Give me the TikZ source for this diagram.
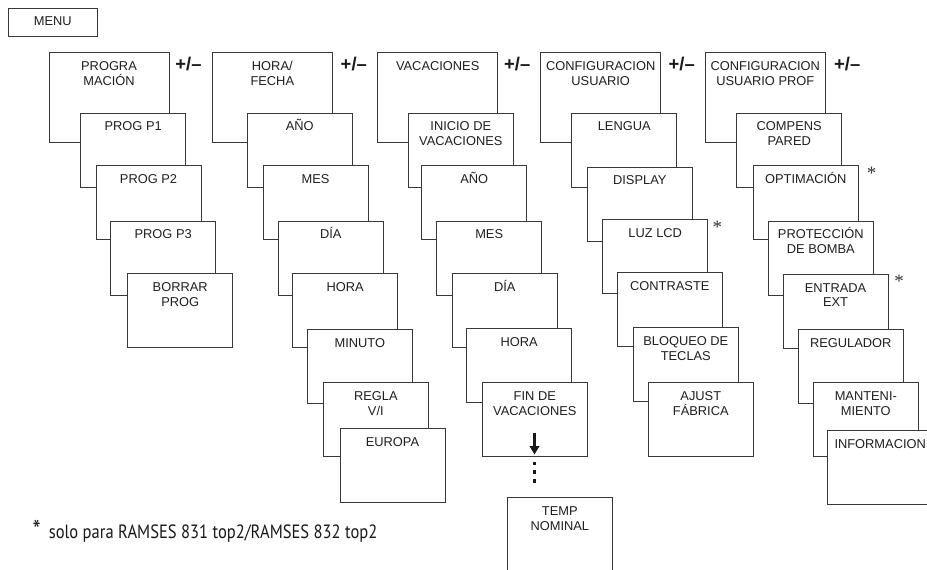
\documentclass[tikz,border=0pt]{standalone}
\usepackage{fontspec}
\setmainfont{Liberation Sans}
\newfontfamily\notefont[FakeStretch=0.86]{PT Sans}
\newfontfamily\starfont{Liberation Serif}
\usetikzlibrary{arrows.meta}

\tikzset{
  screenbox/.style={draw=black!78, fill=white, line width=0.8bp, inner sep=0pt,
    outer sep=0pt, anchor=north west, text=black!88,
    font=\fontsize{12.9}{15}\selectfont},
  plusminus/.style={anchor=base, inner sep=0pt, text=black!90,
    font=\fontsize{18.5}{19}\selectfont\bfseries},
  onlystar/.style={inner sep=0pt, text=black!80,
    font=\starfont\fontsize{19}{19}\selectfont},
  footnote/.style={anchor=base west, inner sep=0pt, text=black!90,
    font=\notefont\fontsize{19.3}{21}\selectfont},
}

% one menu screen: name, left, top, width, height, caption
\newcommand\screen[6]{%
  \node[screenbox] (#1) at (#2,#3)
    {\parbox[t][#5bp][t]{#4bp}{\centering\rule{0pt}{18bp}#6}};}

\begin{document}
\begin{tikzpicture}[x=1bp, y=-1bp]
\useasboundingbox (0,0) rectangle (927,570);
\clip (0,0) rectangle (927,570);

\screen{menu}{8}{8}{89.7}{28.7}{MENU}

% programs
\screen{prog}{49}{52.3}{120}{89.7}{PROGRA\\MACIÓN}
\screen{p1}{80.7}{113}{105}{74.3}{PROG P1}
\screen{p2}{96}{165.5}{105}{74.3}{PROG P2}
\screen{p3}{110.7}{221}{105}{74.3}{PROG P3}
\screen{borrar}{127.7}{273.5}{105}{74.3}{BORRAR\\PROG}

% time and date
\screen{hora}{212.3}{52.3}{120}{89.7}{HORA/\\FECHA}
\screen{hano}{247.3}{113}{105}{74.3}{AÑO}
\screen{hmes}{263}{165.5}{105}{74.3}{MES}
\screen{hdia}{278.3}{221}{105}{74.3}{DÍA}
\screen{hhora}{292.7}{273.5}{105}{74.3}{HORA}
\screen{hmin}{307.3}{329}{105}{74.3}{MINUTO}
\screen{regla}{323.3}{382.5}{105}{74.3}{REGLA\\V/I}
\screen{europa}{340}{428.3}{105}{74.3}{EUROPA}

% holidays
\screen{vac}{377.7}{52.3}{120}{89.7}{VACACIONES}
\screen{inicio}{408.3}{113}{105}{74.3}{INICIO DE\\VACACIONES}
\screen{vano}{421.7}{165.5}{105}{74.3}{AÑO}
\screen{vmes}{436.7}{221}{105}{74.3}{MES}
\screen{vdia}{452.3}{273.5}{105}{74.3}{DÍA}
\screen{vhora}{466.7}{328}{105}{74.3}{HORA}
\screen{fin}{482.3}{382.5}{105}{74.3}{FIN DE\\VACACIONES}
\screen{temp}{507.3}{497.3}{105}{74.3}{TEMP\\NOMINAL}

% user settings
\screen{conf}{540.7}{52.3}{120}{89.7}{CONFIGURACION\\USUARIO}
\screen{lengua}{571.7}{113}{105}{74.3}{LENGUA}
\screen{display}{587.3}{167}{105}{74.3}{DISPLAY}
\screen{luz}{602.7}{219.5}{105}{74.3}{LUZ LCD}
\screen{contraste}{617.3}{272.3}{105}{74.3}{CONTRASTE}
\screen{bloqueo}{633.3}{327.3}{105}{74.3}{BLOQUEO DE\\TECLAS}
\screen{ajust}{648.3}{382.3}{105}{74.3}{AJUST\\FÁBRICA}

% professional settings
\screen{prof}{705.3}{52.3}{120}{89.7}{CONFIGURACION\\USUARIO PROF}
\screen{compens}{736.7}{113}{105}{74.3}{COMPENS\\PARED}
\screen{optim}{753.3}{165.5}{105}{74.3}{OPTIMACIÓN}
\screen{protec}{768.3}{221}{105}{74.3}{PROTECCIÓN\\DE BOMBA}
\screen{entrada}{783}{274}{105}{74.3}{ENTRADA\\EXT}
\screen{regul}{798.3}{329}{105}{74.3}{REGULADOR}
\screen{manten}{813.3}{382.5}{105}{74.3}{MANTENI-\\MIENTO}
\screen{info}{827.7}{430.3}{105}{74.3}{INFORMACION}

% +/- between the main menus
\node[plusminus] (pm1) at (188.5,70.8) {+/–};
\node[plusminus] (pm2) at (353.8,70.8) {+/–};
\node[plusminus] (pm3) at (517.2,70.8) {+/–};
\node[plusminus] (pm4) at (681.7,70.8) {+/–};
\node[plusminus] (pm5) at (847.2,70.8) {+/–};

% marks for model-specific items
\node[onlystar] (s1) at (717.3,227) {*};
\node[onlystar] (s2) at (871.7,173.5) {*};
\node[onlystar] (s3) at (899,281) {*};

% continuation below FIN DE VACACIONES
\coordinate (arrtop) at (534.5,432.5);
\coordinate (arrtip) at (534.5,454.5);
\draw[black!90, line width=3.8bp, -{Triangle[width=9.5bp,length=8.5bp]}] (arrtop) -- (arrtip);
\foreach \yy in {463.5,472.3,481} {
  \fill[black!90] (532.6,\yy-1.9) rectangle (536.4,\yy+1.9);
}

\node[footnote] (note) at (32.5,538.5)
  {{\fontsize{27}{27}\selectfont\raisebox{-1bp}{*}}\hspace{8bp}solo para RAMSES 831 top2/RAMSES 832 top2};
\end{tikzpicture}
\end{document}
